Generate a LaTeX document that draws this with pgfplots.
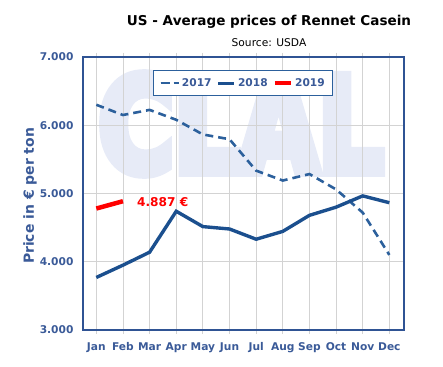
\documentclass[border=0pt]{standalone}
\usepackage{pgfplots}
\pgfplotsset{compat=1.18}
\usepackage{fontspec}
\setmainfont{DejaVu Sans}
\newfontfamily\wmfont[RawFeature={embolden=9}]{DejaVu Sans Bold}
\definecolor{axisblue}{HTML}{2F5394}
\definecolor{ticklab}{HTML}{3A5A98}
\definecolor{line17}{HTML}{2C609C}
\definecolor{line18}{HTML}{1B4F8E}
\definecolor{wm}{HTML}{E7EBF7}
\definecolor{gridgray}{HTML}{D3D3D3}
\pgfplotsset{shortdash legend/.style={legend image code/.code={\draw[##1, solid] (0bp,0bp) -- (9bp,0bp);\path (0bp,0bp) -- (18bp,0bp);}}}
\begin{document}
\begin{tikzpicture}[x=1bp,y=1bp]
\useasboundingbox (0,0) rectangle (443,366);
% watermark
\node[text=wm, xscale=0.79, inner sep=0pt, font=\fontsize{130}{130}\wmfont] at (241,242) {CLAL};
\begin{axis}[
  at={(83bp,36bp)}, anchor=south west,
  scale only axis, width=321bp, height=273bp,
  xmin=-0.5, xmax=11.55, ymin=3000, ymax=7000,
  xtick={0,...,11},
  xticklabels={Jan,Feb,Mar,Apr,May,Jun,Jul,Aug,Sep,Oct,Nov,Dec},
  ytick={3000,4000,5000,6000,7000},
  yticklabels={3.000,4.000,5.000,6.000,7.000},
  /pgf/number format/assume math mode=true,
  ticklabel style={font=\fontsize{10.7}{12}\selectfont\bfseries, text=ticklab},
  xticklabel style={yshift=-5bp},
  yticklabel style={xshift=-2bp},
  tick align=outside,
  major tick length=4bp,
  xtick style={draw=gridgray, line width=0.8pt},
  ytick style={draw=none},
  grid=major,
  grid style={draw=gridgray, line width=0.8pt},
  axis line style={draw=axisblue, line width=1.4pt},
  legend columns=3,
  legend style={at={(rel axis cs:0.218,0.952)}, anchor=north west,
    draw=line17, line width=0.8pt, fill=white,
    font=\fontsize{10.7}{12}\selectfont\bfseries, text=ticklab,
    inner xsep=6bp, inner ysep=6bp,
    /tikz/every even column/.append style={column sep=3bp}},
  legend image code/.code={\draw[#1] (0bp,0bp) -- (16bp,0bp);},
]
\addplot[line17, line width=2.6pt, dash pattern=on 8bp off 5bp, shortdash legend] coordinates {
 (0,6300) (1,6150) (2,6225) (3,6080) (4,5865) (5,5795) (6,5335) (7,5190) (8,5285) (9,5060) (10,4720) (11,4100)};
\addlegendentry{2017}
\addplot[line18, line width=3.4pt] coordinates {
 (0,3770) (1,3950) (2,4140) (3,4740) (4,4515) (5,4480) (6,4330) (7,4445) (8,4680) (9,4800) (10,4965) (11,4865)};
\addlegendentry{2018}
\addplot[red, line width=4.5pt] coordinates {(0,4780) (1,4887)};
\addlegendentry{2019}
\node[text=red, font=\fontsize{12.2}{14}\selectfont\bfseries] at (axis cs:2.49,4871) {4.887 €};
\end{axis}
\node[font=\fontsize{13.6}{16}\selectfont\bfseries] at (269,344) {US - Average prices of Rennet Casein};
\node[font=\fontsize{10.7}{12}\selectfont] at (269,323) {Source: USDA};
\node[rotate=90, text=ticklab, font=\fontsize{14}{16}\selectfont\bfseries] at (30,170) {Price in € per ton};
\end{tikzpicture}
\end{document}
